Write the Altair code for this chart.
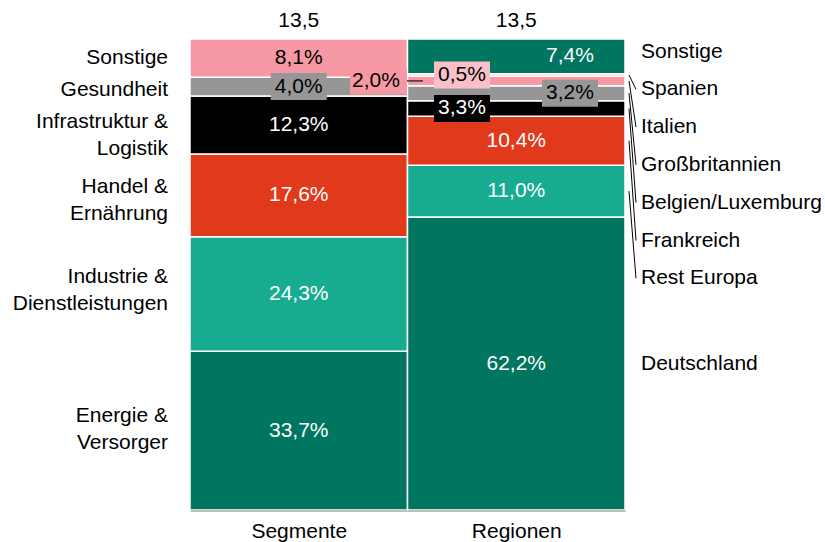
import altair as alt
import pandas as pd

# Column categories and totals shown above each column
columns = ["Segmente", "Regionen"]
totals = ["13,5", "13,5"]

# Left column: shares by segment (bottom to top)
seg_names = ["Energie &\nVersorger", "Industrie &\nDienstleistungen", "Handel &\nErnährung",
             "Infrastruktur &\nLogistik", "Gesundheit", "Sonstige"]
seg_values = [33.7, 24.3, 17.6, 12.3, 4.0, 8.1]

# Right column: shares by region (bottom to top)
reg_names = ["Deutschland", "Rest Europa", "Frankreich", "Belgien/Luxemburg",
             "Großbritannien", "Italien", "Spanien", "Sonstige"]
reg_values = [62.2, 11.0, 10.4, 3.3, 3.2, 2.0, 0.5, 7.4]

# Styling
DKGREEN, TEAL, RED, BLACK, GRAY, PINK, LTPINK = (
    "#00755f", "#17ac91", "#e0391c", "#000000", "#969696", "#f799a4", "#f9c0c7")
seg_colors = [DKGREEN, TEAL, RED, BLACK, GRAY, PINK]
reg_colors = [DKGREEN, TEAL, RED, BLACK, GRAY, PINK, LTPINK, DKGREEN]
FONT = "Liberation Sans"
FS = 21

# Plot-area geometry (pixels)
W, H = 435, 471
XU = 2.0 / W      # x data units per pixel
YU = 100.0 / H    # y data units per pixel


def fmt(v):
    return f"{v:.1f}".replace(".", ",") + "%"


def dark(c):
    return c in (DKGREEN, TEAL, RED, BLACK)


rows = []
for col, (names, vals, cols) in enumerate([(seg_names, seg_values, seg_colors),
                                           (reg_names, reg_values, reg_colors)]):
    acc = 0.0
    for n, v, c in zip(names, vals, cols):
        rows.append(dict(col=col, name=n, val=v, y0=acc, y1=acc + v, ym=acc + v / 2,
                         x0=col, x1=col + 1, color=c,
                         tcolor="#ffffff" if dark(c) else "#000000", label=fmt(v)))
        acc += v
df = pd.DataFrame(rows)

# Label x placement (pixel from plot left) for labels that are not centred
label_x_px = {(1, "Sonstige"): 380, (1, "Spanien"): 272, (1, "Belgien/Luxemburg"): 272,
              (1, "Großbritannien"): 380, (1, "Italien"): 186}
# Segments whose labels sit on a coloured box
boxed = {(0, "Gesundheit"), (1, "Spanien"), (1, "Großbritannien"),
         (1, "Belgien/Luxemburg"), (1, "Italien")}

df["lx"] = [label_x_px.get((r.col, r.name), None) for r in df.itertuples()]
df["lx"] = [r.lx * XU if pd.notna(r.lx) else r.col + 0.5 for r in df.itertuples()]

box_rows = []
for r in df.itertuples():
    if (r.col, r.name) in boxed:
        if (r.col, r.name) == (1, "Italien"):
            bx0, bx1 = 160 * XU, 217 * XU
        else:
            bx0, bx1 = r.lx - 28 * XU, r.lx + 28 * XU
        box_rows.append(dict(bx0=bx0, bx1=bx1, by0=r.ym - 13.5 * YU, by1=r.ym + 13.5 * YU,
                             color=r.color))
boxes = pd.DataFrame(box_rows)

xs = alt.Scale(domain=[0, 2], nice=False, zero=False)
ys = alt.Scale(domain=[0, 100], nice=False, zero=False)

bars = alt.Chart(df).mark_rect(stroke="white", strokeWidth=1.5).encode(
    x=alt.X("x0:Q", scale=xs, axis=alt.Axis(
        values=[0.5, 1.5],
        labelExpr="[" + ",".join(f"'{c}'" for c in columns) + "][floor(datum.value)]",
        ticks=False, grid=False, domainColor="black", domainWidth=1.5,
        labelFont=FONT, labelFontSize=FS, labelColor="black", labelPadding=10,
        title=None)),
    x2="x1:Q",
    y=alt.Y("y0:Q", scale=ys, axis=None),
    y2="y1:Q",
    color=alt.Color("color:N", scale=None),
)

box_layer = alt.Chart(boxes).mark_rect().encode(
    x=alt.X("bx0:Q", scale=xs), x2="bx1:Q",
    y=alt.Y("by0:Q", scale=ys), y2="by1:Q",
    color=alt.Color("color:N", scale=None),
)

# Leader line for the small Italien share
it = df[(df.col == 1) & (df.name == "Italien")]
lead_it = alt.Chart(it).mark_rule(color="#333333", strokeWidth=1.5).encode(
    x=alt.value(217), x2=alt.value(233), y=alt.Y("ym:Q", scale=ys))

value_text = alt.Chart(df).mark_text(font=FONT, fontSize=FS).encode(
    x=alt.X("lx:Q", scale=xs), y=alt.Y("ym:Q", scale=ys),
    text="label:N", color=alt.Color("tcolor:N", scale=None),
)

tot_df = pd.DataFrame({"x": [0.5, 1.5], "y": [100, 100], "t": totals})
tot_text = alt.Chart(tot_df).mark_text(font=FONT, fontSize=FS, dy=-18.5, color="black").encode(
    x=alt.X("x:Q", scale=xs), y=alt.Y("y:Q", scale=ys), text="t:N")

# Left-side segment names near their segments (first line anchored)
left_nudge_px = {"Energie &\nVersorger": -15, "Industrie &\nDienstleistungen": -17,
                 "Handel &\nErnährung": -8.5, "Infrastruktur &\nLogistik": -2.5,
                 "Gesundheit": 3.5, "Sonstige": 0}
seg_df = df[df.col == 0].copy()
seg_df["ty"] = [r.ym - left_nudge_px[r.name] * YU for r in seg_df.itertuples()]
left_names = alt.Chart(seg_df).mark_text(
    font=FONT, fontSize=FS, align="right", lineBreak="\n", lineHeight=27, color="black"
).encode(x=alt.value(-22), y=alt.Y("ty:Q", scale=ys), text="name:N")

# Right-side region names: stacked list at the top, Deutschland at its segment
reg_df = df[df.col == 1].copy()
order_top = ["Sonstige", "Spanien", "Italien", "Großbritannien",
             "Belgien/Luxemburg", "Frankreich", "Rest Europa"]
ty = {}
for i, n in enumerate(order_top):
    ty[n] = 100 - (12.5 + i * 37.8) * YU
reg_df["ty"] = [ty.get(r.name, r.ym) for r in reg_df.itertuples()]
right_names = alt.Chart(reg_df).mark_text(
    font=FONT, fontSize=FS, align="left", color="black"
).encode(x=alt.value(451), y=alt.Y("ty:Q", scale=ys), text="name:N")

leaders = alt.Chart(reg_df[reg_df.name.isin(order_top[1:])]).mark_rule(
    color="black", strokeWidth=1
).encode(x=alt.value(439), x2=alt.value(446),
         y=alt.Y("ym:Q", scale=ys), y2="ty:Q")

chart = alt.layer(
    bars, box_layer, lead_it, value_text, tot_text, left_names, right_names, leaders
).properties(
    width=W, height=H,
    autosize=alt.AutoSizeParams(type="none"),
    padding={"left": 190, "top": 39, "right": 200, "bottom": 32},
    background="white",
).configure_view(stroke=None)

chart.save("out.html", embed_options={"renderer": "svg", "actions": False})
